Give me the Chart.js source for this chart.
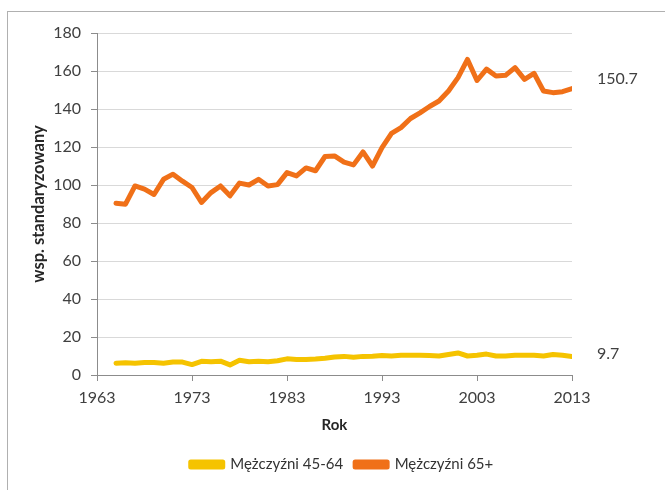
<!DOCTYPE html>
<html>
<head>
<meta charset="utf-8">
<script src="https://cdn.jsdelivr.net/npm/chart.js@4"></script>
<style>
  body { margin: 0; background: #fff; }
  #frame { position: absolute; left: 7px; top: 11px; width: 700px; height: 520px; border: 1px solid #b0b0b0; }
  #wrap { position: absolute; left: 0; top: 0; width: 665px; height: 490px; }
</style>
</head>
<body>
<div id="frame"></div>
<div id="wrap"><canvas id="chart" width="665" height="490"></canvas></div>
<script>
// lata (oś X)
const years = [1965, 1966, 1967, 1968, 1969, 1970, 1971, 1972, 1973, 1974,
  1975, 1976, 1977, 1978, 1979, 1980, 1981, 1982, 1983, 1984,
  1985, 1986, 1987, 1988, 1989, 1990, 1991, 1992, 1993, 1994,
  1995, 1996, 1997, 1998, 1999, 2000, 2001, 2002, 2003, 2004,
  2005, 2006, 2007, 2008, 2009, 2010, 2011, 2012, 2013];

// Mężczyźni 45-64
const men4564 = [6.2, 6.5, 6.2, 6.6, 6.6, 6.2, 6.8, 6.8, 5.5, 7.2,
  7.0, 7.3, 5.3, 7.8, 7.0, 7.2, 7.0, 7.5, 8.5, 8.2,
  8.2, 8.4, 8.8, 9.5, 9.8, 9.4, 9.8, 9.9, 10.3, 10.0,
  10.4, 10.4, 10.4, 10.2, 10.0, 10.8, 11.6, 10.0, 10.4, 11.0,
  10.0, 10.0, 10.4, 10.4, 10.4, 10.0, 10.8, 10.4, 9.7];

// Mężczyźni 65+
const men65 = [90.4, 89.9, 99.5, 97.8, 95.0, 103.0, 105.7, 102.0, 98.7, 90.8,
  96.0, 99.5, 94.3, 101.0, 100.0, 103.0, 99.5, 100.2, 106.5, 104.8,
  109.0, 107.5, 115.0, 115.3, 112.0, 110.6, 117.4, 110.0, 119.7, 127.2,
  130.2, 135.0, 138.0, 141.3, 144.2, 149.5, 156.5, 166.1, 155.0, 161.0,
  157.4, 157.7, 161.8, 155.6, 158.8, 149.5, 148.6, 149.1, 150.7];

const xTicks = [1963, 1973, 1983, 1993, 2003, 2013];
const yTicks = [0, 20, 40, 60, 80, 100, 120, 140, 160, 180];

const seriesNames = ['Mężczyźni 45-64', 'Mężczyźni 65+'];
const seriesColors = ['#F5C300', '#F07018'];
const labelShift = [-3, -10];

const font = 'Lato, "Open Sans", sans-serif';
const axisGray = '#8c8c8c';

function toPoints(values) {
  return values.map((v, i) => ({ x: years[i], y: v }));
}

// etykieta z ostatnią wartością po prawej stronie linii
const endLabels = {
  id: 'endLabels',
  afterDatasetsDraw(chart) {
    const ctx = chart.ctx;
    ctx.save();
    ctx.font = '16px ' + font;
    ctx.fillStyle = '#404040';
    ctx.textAlign = 'left';
    ctx.textBaseline = 'middle';
    chart.data.datasets.forEach((ds, i) => {
      const meta = chart.getDatasetMeta(i);
      const last = meta.data[meta.data.length - 1];
      const val = ds.data[ds.data.length - 1].y;
      ctx.fillText(val.toFixed(1), last.x + 25, last.y + labelShift[i]);
    });
    ctx.restore();
  }
};

new Chart(document.getElementById('chart'), {
  type: 'line',
  data: {
    datasets: seriesNames.map((name, i) => ({
      label: name,
      data: toPoints(i === 0 ? men4564 : men65),
      borderColor: seriesColors[i],
      backgroundColor: seriesColors[i],
      borderWidth: 5,
      borderJoinStyle: 'round',
      borderCapStyle: 'round',
      pointRadius: 0,
      tension: 0
    }))
  },
  options: {
    responsive: false,
    animation: false,
    layout: { padding: { left: 19, right: 0, top: 33, bottom: 8 } },
    plugins: {
      tooltip: { enabled: false },
      legend: {
        position: 'bottom',
        labels: {
          boxWidth: 32,
          boxHeight: 5,
          padding: 12,
          color: '#333',
          font: { family: font, size: 15 }
        }
      }
    },
    scales: {
      x: {
        type: 'linear',
        min: xTicks[0],
        max: xTicks[xTicks.length - 1],
        afterBuildTicks: s => { s.ticks = xTicks.map(v => ({ value: v })); },
        afterFit: s => { s.height = 70; },
        border: { color: axisGray, width: 1 },
        grid: { drawOnChartArea: false, tickLength: 6, tickColor: axisGray },
        ticks: {
          padding: 7,
          color: '#404040',
          maxRotation: 0,
          font: { family: font, size: 16 },
          callback: v => String(v)
        },
        title: {
          display: true,
          text: 'Rok',
          color: '#262626',
          padding: { top: 0, bottom: 11 },
          font: { family: font, size: 15, weight: 'bold' }
        }
      },
      y: {
        min: 0,
        max: 180,
        afterBuildTicks: s => { s.ticks = yTicks.map(v => ({ value: v })); },
        afterFit: s => { s.width = 78; },
        border: { color: axisGray, width: 1 },
        grid: { color: '#d9d9d9', lineWidth: 1, tickLength: 6, tickColor: axisGray },
        ticks: {
          padding: 10,
          color: '#404040',
          font: { family: font, size: 16 }
        },
        title: {
          display: true,
          text: 'wsp. standaryzowany',
          color: '#262626',
          padding: { top: 10, bottom: 0 },
          font: { family: font, size: 16.5, weight: 'bold' }
        }
      },
      // pusta oś po prawej, zostawia miejsce na etykiety wartości
      yRight: {
        position: 'right',
        display: true,
        afterFit: s => { s.width = 93; },
        border: { display: false },
        grid: { display: false },
        ticks: { display: false }
      }
    }
  },
  plugins: [endLabels]
});
</script>
</body>
</html>
